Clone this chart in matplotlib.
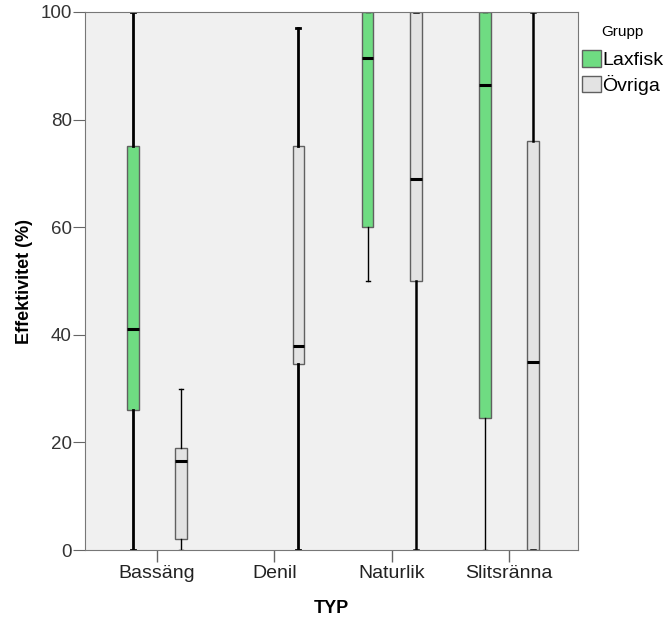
import matplotlib.pyplot as plt
import matplotlib.patches as mpatches
import numpy as np

plt.rcParams['font.family'] = ['Liberation Sans', 'DejaVu Sans']

# Data (Effektivitet, %)
categories = ['Bassäng', 'Denil', 'Naturlik', 'Slitsränna']
groups = ['Laxfisk', 'Övriga']

lax_whislo = [0, np.nan, 50, 0]
lax_q1 = [26, np.nan, 60, 24.5]
lax_med = [41, np.nan, 91.5, 86.5]
lax_q3 = [75, np.nan, 100, 100]
lax_whishi = [100, np.nan, 100, 100]

ovr_whislo = [0, 0, 0, 0]
ovr_q1 = [2, 34.5, 50, 0]
ovr_med = [16.5, 38, 69, 35]
ovr_q3 = [19, 75, 100, 76]
ovr_whishi = [30, 97, 100, 100]

# whisker line widths as drawn in the reference (per drawn box)
lax_wlw = [2.0, 1.0, 1.0]
ovr_wlw = [1.0, 2.0, 1.8, 1.8]

GREEN = '#6fdc82'
GREY = '#e3e3e3'
EDGE = '#606060'
BG = '#f0f0f0'


def make_stats(lo, q1, med, q3, hi):
    stats, pos = [], []
    for i in range(len(categories)):
        if np.isnan(med[i]):
            continue
        stats.append(dict(whislo=lo[i], q1=q1[i], med=med[i], q3=q3[i],
                          whishi=hi[i], fliers=[]))
        pos.append(i)
    return stats, pos


fig = plt.figure(figsize=(6.66, 6.18), dpi=100)
ax = fig.add_axes([0.1276, 0.110, 0.7402, 0.8706])
ax.set_facecolor(BG)

offset = 0.205
for (lo, q1, med, q3, hi), color, sign, wlw in [
        ((lax_whislo, lax_q1, lax_med, lax_q3, lax_whishi), GREEN, -1, lax_wlw),
        ((ovr_whislo, ovr_q1, ovr_med, ovr_q3, ovr_whishi), GREY, 1, ovr_wlw)]:
    stats, pos = make_stats(lo, q1, med, q3, hi)
    bp = ax.bxp(stats, positions=np.array(pos) + sign * offset, widths=0.1,
                capwidths=0.035, patch_artist=True, showfliers=False,
                boxprops=dict(facecolor=color, edgecolor=EDGE, linewidth=1),
                medianprops=dict(color='black', linewidth=2.2, solid_capstyle='butt'),
                whiskerprops=dict(color='black'),
                capprops=dict(color='black'))
    for k, lw in enumerate(wlw):
        for line in bp['whiskers'][2 * k:2 * k + 2] + bp['caps'][2 * k:2 * k + 2]:
            line.set_linewidth(lw)

ax.set_xlim(-0.614, 3.588)
ax.set_ylim(0, 100)
ax.set_xticks(range(len(categories)))
ax.set_xticklabels(categories, fontsize=14, color='#222222')
ax.set_yticks([0, 20, 40, 60, 80, 100])
ax.tick_params(axis='y', labelsize=13.5, length=8.5, pad=1, color='#666666',
               labelcolor='#333333')
ax.tick_params(axis='x', length=8.5, width=1, color='#666666', pad=2)
for s in ax.spines.values():
    s.set_color('#777777')

ax.set_xlabel('TYP', fontsize=13, fontweight='bold', labelpad=13)
ax.set_ylabel('Effektivitet (%)', fontsize=13, fontweight='bold', labelpad=5)

handles = [mpatches.Patch(facecolor=GREEN, edgecolor=EDGE, label=groups[0]),
           mpatches.Patch(facecolor=GREY, edgecolor=EDGE, label=groups[1])]
leg = fig.legend(handles=handles, title='Grupp', loc='upper left',
                 bbox_to_anchor=(0.874, 0.960), frameon=False, fontsize=14,
                 title_fontsize=11, handlelength=0.95, handleheight=0.95,
                 handletextpad=0.1, labelspacing=0.3, borderpad=0,
                 borderaxespad=0)
leg._legend_box.sep = 8

fig.savefig('out.png', dpi=100, facecolor='white')
